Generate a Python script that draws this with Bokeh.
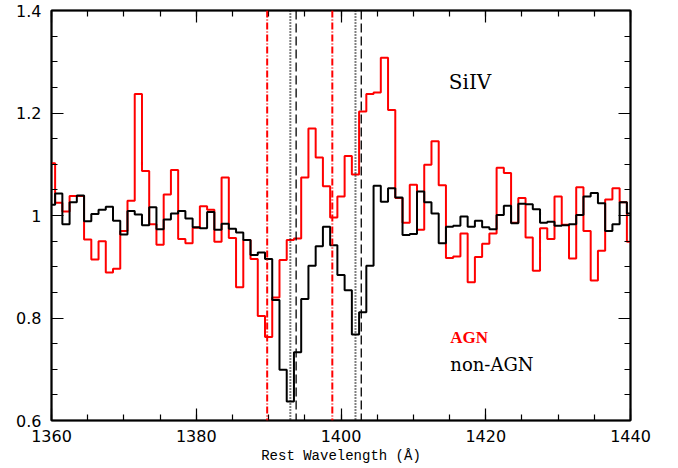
from bokeh.plotting import figure
from bokeh.models import Range1d, LinearAxis, FixedTicker, Span, CustomJSTickFormatter, ColumnDataSource
from bokeh.core.properties import value
from bokeh.embed import file_html
from bokeh.resources import INLINE

# Rest wavelength bins (Angstrom)
wavelength = list(range(1360, 1441))

# Stacked spectrum, AGN (red)
agn_flux = [
    1.102, 1.025, 1.008, 1.038, 1.038, 0.953, 0.914, 0.950, 0.889, 0.896,
    0.970, 1.029, 1.237, 1.087, 0.983, 0.943, 1.041, 1.089, 0.954, 0.946,
    0.976, 1.018, 1.011, 0.949, 1.074, 0.956, 0.860, 0.952, 0.915, 0.804,
    0.763, 0.840, 0.913, 0.952, 0.955, 1.074, 1.170, 1.113, 1.057, 0.996,
    1.037, 1.116, 1.080, 1.203, 1.237, 1.240, 1.308, 1.206, 1.034, 0.986,
    1.060, 0.972, 1.099, 1.145, 1.059, 0.917, 0.920, 0.965, 0.870, 0.919,
    0.945, 0.965, 1.093, 1.083, 0.986, 1.034, 0.957, 0.892, 0.975, 0.954,
    1.037, 0.982, 0.916, 1.055, 0.970, 0.873, 0.931, 1.031, 1.053, 1.026,
    0.949,
]

# Stacked spectrum, non-AGN (black)
non_agn_flux = [
    1.021, 1.043, 0.983, 1.026, 1.039, 0.989, 1.003, 1.011, 1.017, 0.990,
    0.963, 1.009, 1.002, 0.981, 1.016, 0.973, 0.992, 1.004, 1.009, 0.994,
    0.977, 0.975, 1.007, 0.972, 0.984, 0.974, 0.967, 0.952, 0.923, 0.928,
    0.915, 0.835, 0.699, 0.637, 0.733, 0.837, 0.902, 0.940, 0.978, 0.942,
    0.884, 0.854, 0.768, 0.811, 0.902, 1.058, 1.027, 1.053, 1.035, 0.962,
    0.964, 1.047, 1.026, 1.004, 0.946, 0.978, 0.980, 0.998, 0.978, 0.990,
    0.977, 0.973, 1.001, 1.019, 0.985, 1.023, 1.022, 1.012, 0.986, 0.988,
    0.980, 0.981, 0.983, 1.001, 1.037, 1.044, 1.024, 0.970, 0.983, 1.026,
    1.004,
]

# Reference line positions
red_dashdot_lines = [1389.8, 1398.8]
black_dotted_lines = [1393.0, 1402.0]
black_dashed_lines = [1393.8, 1402.8]

# Tick positions
x_major_ticks = [1360, 1380, 1400, 1420, 1440]
x_minor_ticks = [1360, 1365, 1370, 1375, 1380, 1385, 1390, 1395, 1400,
                 1405, 1410, 1415, 1420, 1425, 1430, 1435, 1440]
y_major_ticks = [0.6, 0.8, 1.0, 1.2, 1.4]
y_minor_ticks = [0.6, 0.65, 0.7, 0.75, 0.8, 0.85, 0.9, 0.95, 1.0,
                 1.05, 1.1, 1.15, 1.2, 1.25, 1.3, 1.35, 1.4]

# Annotations
label_texts = ["SiIV", "AGN", "non-AGN"]
label_x = [1414.9, 1415.1, 1415.1]
label_y = [1.260, 0.761, 0.710]

x_limits = [1360, 1440]
y_limits = [0.6, 1.4]

p = figure(width=670, height=468,
           x_range=Range1d(*x_limits), y_range=Range1d(*y_limits),
           output_backend="svg", toolbar_location=None,
           min_border_left=51, min_border_right=40,
           min_border_top=10, min_border_bottom=48)
p.xgrid.visible = False
p.ygrid.visible = False
p.outline_line_color = "black"
p.outline_line_width = 2
p.background_fill_color = "white"
p.border_fill_color = "white"

xt = FixedTicker(ticks=x_major_ticks, minor_ticks=x_minor_ticks)
yt = FixedTicker(ticks=y_major_ticks, minor_ticks=y_minor_ticks)
yfmt = CustomJSTickFormatter(code="var s = tick.toFixed(1); return s == '1.0' ? '1' : s;")


def style(ax):
    ax.axis_line_color = "black"
    ax.axis_line_width = 1.5
    ax.major_tick_line_color = "black"
    ax.minor_tick_line_color = "black"
    ax.major_tick_line_width = 1.2
    ax.minor_tick_line_width = 1.2
    ax.major_tick_in = 12
    ax.major_tick_out = 0
    ax.minor_tick_in = 6
    ax.minor_tick_out = 0


xa = p.xaxis[0]
xa.ticker = xt
style(xa)
xa.major_label_text_font = "DejaVu Sans"
xa.major_label_text_font_size = "16px"
xa.major_label_text_color = "black"
xa.major_label_standoff = 9
xa.axis_label = "Rest Wavelength (Å)"
xa.axis_label_text_font = "Liberation Mono"
xa.axis_label_text_font_size = "14px"
xa.axis_label_text_font_style = "normal"
xa.axis_label_text_color = "black"
xa.axis_label_standoff = 3

ya = p.yaxis[0]
ya.ticker = yt
ya.formatter = yfmt
style(ya)
ya.major_label_text_font = "DejaVu Sans"
ya.major_label_text_font_size = "16px"
ya.major_label_text_color = "black"
ya.major_label_standoff = 10

top = LinearAxis(ticker=xt, major_label_text_font_size="8px",
                 major_label_text_alpha=0, major_label_standoff=0)
style(top)
right = LinearAxis(ticker=yt, major_label_text_font_size="8px",
                   major_label_text_alpha=0, major_label_standoff=0)
style(right)
p.add_layout(top, "above")
p.add_layout(right, "right")

src = ColumnDataSource(dict(w=wavelength, agn=agn_flux, non=non_agn_flux))
p.step("w", "agn", source=src, mode="center", line_color="#ff0000", line_width=2)
p.step("w", "non", source=src, mode="center", line_color="black", line_width=2)

for loc in red_dashdot_lines:
    p.add_layout(Span(location=loc, dimension="height", line_color="#ff0000",
                      line_width=2, line_dash="7 2 1 2"))
for loc in black_dotted_lines:
    p.add_layout(Span(location=loc, dimension="height", line_color="black",
                      line_width=2, line_dash="1 2"))
for loc in black_dashed_lines:
    p.add_layout(Span(location=loc, dimension="height", line_color="black",
                      line_width=1.3, line_dash="9 4"))

p.text(x=[label_x[0]], y=[label_y[0]], text=[label_texts[0]],
       text_font=value("DejaVu Serif"), text_font_size=value("20px"),
       text_color="black", text_baseline="middle", text_align="left")
p.text(x=[label_x[1]], y=[label_y[1]], text=[label_texts[1]],
       text_font=value("Liberation Serif"), text_font_size=value("17px"),
       text_font_style="bold",
       text_color="#ff0000", text_baseline="middle", text_align="left")
p.text(x=[label_x[2]], y=[label_y[2]], text=[label_texts[2]],
       text_font=value("DejaVu Serif"), text_font_size=value("18px"),
       text_color="black", text_baseline="middle", text_align="left")

open("out.html", "w").write(file_html(p, INLINE))
